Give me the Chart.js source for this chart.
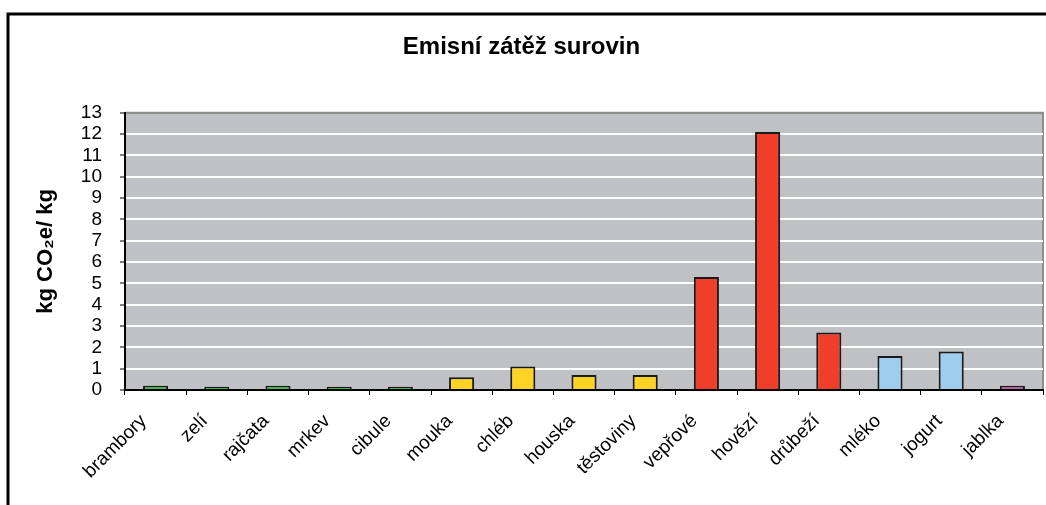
<!DOCTYPE html>
<html>
<head>
<meta charset="utf-8">
<script src="https://cdn.jsdelivr.net/npm/chart.js@4/dist/chart.umd.min.js"></script>
<style>
  body { margin: 0; background: #fff; }
  #wrap { width: 1046px; height: 505px; }
</style>
</head>
<body>
<div id="wrap"><canvas id="myChart" width="1046" height="505"></canvas></div>
<script>
// data
const categories = ['brambory', 'zelí', 'rajčata', 'mrkev', 'cibule', 'mouka', 'chléb', 'houska',
  'těstoviny', 'vepřové', 'hovězí', 'drůbeží', 'mléko', 'jogurt', 'jablka'];
const emissions = [0.2, 0.15, 0.2, 0.15, 0.15, 0.6, 1.1, 0.7, 0.7, 5.3, 12.1, 2.7, 1.6, 1.8, 0.2];
const groups = ['zelenina', 'zelenina', 'zelenina', 'zelenina', 'zelenina', 'obiloviny', 'obiloviny', 'obiloviny',
  'obiloviny', 'maso', 'maso', 'maso', 'mlecne', 'mlecne', 'ovoce'];
const yTicks = [0, 13];

const groupColors = {
  zelenina: '#41b64a',
  obiloviny: '#ffd324',
  maso: '#ef3f2b',
  mlecne: '#9fcdee',
  ovoce: '#b65aa5'
};

const FONT = '"Liberation Sans", Arial, sans-serif';

// plot background + outer frame lines
const frame = {
  id: 'frame',
  beforeDraw(chart) {
    const { ctx, chartArea } = chart;
    ctx.save();
    ctx.fillStyle = '#c0c1c4';
    ctx.fillRect(chartArea.left, chartArea.top, chartArea.right - chartArea.left, chartArea.bottom - chartArea.top);
    ctx.strokeStyle = '#8e8e8e';
    ctx.lineWidth = 2;
    ctx.beginPath();
    ctx.moveTo(chartArea.left, chartArea.top);
    ctx.lineTo(chartArea.right, chartArea.top);
    ctx.lineTo(chartArea.right, chartArea.bottom);
    ctx.stroke();
    ctx.restore();
  },
  afterDraw(chart) {
    const ctx = chart.ctx;
    ctx.save();
    ctx.strokeStyle = '#000';
    ctx.lineWidth = 3;
    ctx.beginPath();
    ctx.moveTo(8, 505);
    ctx.lineTo(8, 14);
    ctx.lineTo(1046, 14);
    ctx.stroke();
    ctx.restore();
  }
};

const ctx = document.querySelector('#myChart').getContext('2d');
const chart = new Chart(ctx, {
  type: 'bar',
  data: {
    labels: categories,
    datasets: [
      {
        label: 'kg CO2e/ kg',
        data: emissions,
        backgroundColor: groups.map(g => groupColors[g]),
        borderColor: '#1a1a1a',
        borderWidth: 2,
        barPercentage: 0.41,
        categoryPercentage: 1
      }
    ]
  },
  options: {
    responsive: false,
    animation: false,
    layout: { padding: { left: 0, right: 3, top: 0, bottom: 0 } },
    plugins: {
      legend: { display: false },
      tooltip: { enabled: false },
      title: {
        display: true,
        text: 'Emisní zátěž surovin',
        color: '#000',
        font: { family: FONT, size: 24, weight: 'bold' },
        padding: { top: 33, bottom: 51 }
      }
    },
    scales: {
      y: {
        min: yTicks[0],
        max: yTicks[1],
        ticks: {
          stepSize: 1,
          autoSkip: false,
          color: '#000',
          padding: 18,
          font: { family: FONT, size: 19 }
        },
        grid: {
          color: c => (c.tick && c.tick.value === yTicks[1]) ? '#8e8e8e' : '#ffffff',
          lineWidth: 2,
          tickColor: '#000',
          tickLength: 5,
          tickWidth: 1
        },
        border: { color: '#000', width: 2 },
        title: {
          display: true,
          text: 'kg CO₂e/ kg',
          color: '#000',
          font: { family: FONT, size: 22, weight: 'bold' },
          padding: { top: 33, bottom: 0 }
        },
        afterFit: scale => { scale.width = 125; }
      },
      x: {
        ticks: {
          color: '#000',
          minRotation: 45,
          maxRotation: 45,
          padding: 15,
          labelOffset: -12,
          font: { family: FONT, size: 19 }
        },
        grid: {
          offset: true,
          drawOnChartArea: false,
          tickColor: '#000',
          tickLength: 5,
          tickWidth: 1
        },
        border: { color: '#000', width: 2 },
        afterFit: scale => { scale.height = 115; }
      }
    }
  },
  plugins: [frame]
});
</script>
</body>
</html>
